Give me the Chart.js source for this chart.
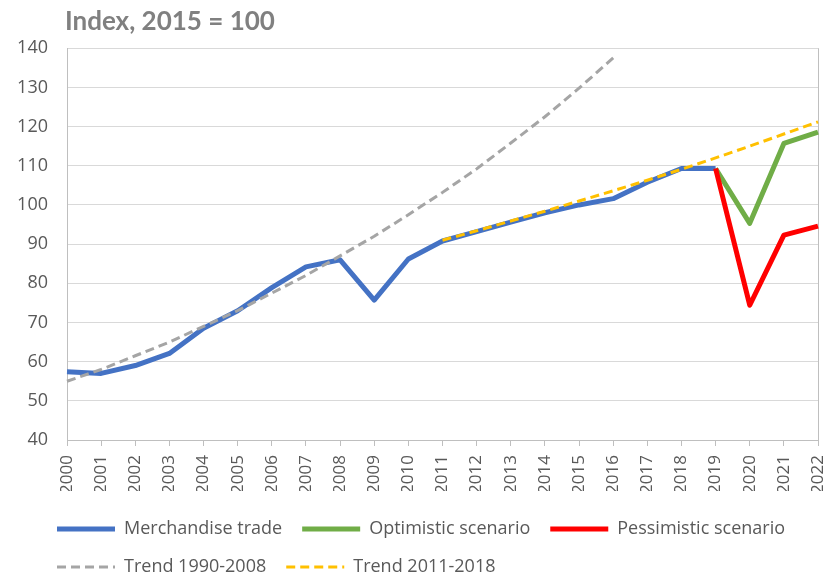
<!DOCTYPE html>
<html>
<head>
<meta charset="utf-8">
<script src="https://cdn.jsdelivr.net/npm/chart.js@4"></script>
<style>
  html, body { margin: 0; padding: 0; background: #fff; }
  #wrap { position: relative; width: 823px; height: 577px; }
</style>
</head>
<body>
<div id="wrap"><canvas id="tradeChart"></canvas></div>
<script>
const years = ['2000','2001','2002','2003','2004','2005','2006','2007','2008','2009','2010',
               '2011','2012','2013','2014','2015','2016','2017','2018','2019','2020','2021','2022'];

const merchandise = [57.4, 57.0, 59.0, 62.1, 68.5, 73.0, 78.9, 84.2, 86.0, 75.7, 86.2,
                     90.8, 93.2, 95.6, 98.0, 100.0, 101.6, 105.8, 109.3, 109.3, null, null, null];
const optimistic = [null, null, null, null, null, null, null, null, null, null, null,
                    null, null, null, null, null, null, null, null, 109.3, 95.3, 115.7, 118.6];
const pessimistic = [null, null, null, null, null, null, null, null, null, null, null,
                     null, null, null, null, null, null, null, null, 109.3, 74.4, 92.3, 94.6];
const trend1990 = [55.0, 58.0, 61.5, 65.0, 69.0, 73.0, 77.5, 82.0, 87.0, 92.0, 97.5,
                   103.2, 109.2, 115.8, 122.5, 129.8, 137.5, null, null, null, null, null, null];
const trend2011 = [null, null, null, null, null, null, null, null, null, null, null,
                   91.0, 93.4, 95.9, 98.4, 101.0, 103.6, 106.3, 109.1, 112.0, 115.0, 118.1, 121.2];

const gridGray = '#d9d9d9';
const axisGray = '#bfbfbf';
const textGray = '#595959';

// move title and legend to where the original puts them
const nudge = {
    id: 'nudge',
    afterLayout(chart) {
        chart.titleBlock.left = chart.chartArea.left - 2;
        chart.legend.left += 37;
        chart.legend.top += 9;
    }
};

const ctx = document.getElementById('tradeChart').getContext('2d');
const chart = new Chart(ctx, {
    type: 'line',
    data: {
        labels: years,
        datasets: [{
            label: 'Merchandise trade',
            data: merchandise,
            borderColor: '#4472c4',
            backgroundColor: '#4472c4',
            borderWidth: 5,
            order: 4
        }, {
            label: 'Optimistic scenario',
            data: optimistic,
            borderColor: '#70ad47',
            backgroundColor: '#70ad47',
            borderWidth: 5,
            order: 3
        }, {
            label: 'Pessimistic scenario',
            data: pessimistic,
            borderColor: '#ff0000',
            backgroundColor: '#ff0000',
            borderWidth: 5,
            order: 2
        }, {
            label: 'Trend 1990-2008',
            data: trend1990,
            borderColor: '#a5a5a5',
            backgroundColor: '#a5a5a5',
            borderWidth: 3,
            borderDash: [9, 5],
            order: 1
        }, {
            label: 'Trend 2011-2018',
            data: trend2011,
            borderColor: '#ffc000',
            backgroundColor: '#ffc000',
            borderWidth: 3,
            borderDash: [9, 5],
            order: 0
        }]
    },
    options: {
        responsive: true,
        maintainAspectRatio: false,
        animation: false,
        layout: { padding: 0 },
        elements: {
            point: { radius: 0 },
            line: { tension: 0, borderJoinStyle: 'round', fill: false }
        },
        scales: {
            x: {
                type: 'category',
                offset: false,
                grid: {
                    color: (c) => c.index === years.length - 1 ? axisGray : 'transparent',
                    tickColor: axisGray,
                    tickLength: 6,
                    drawOnChartArea: true
                },
                border: { color: axisGray, width: 1 },
                ticks: {
                    autoSkip: false,
                    maxRotation: 90,
                    minRotation: 90,
                    padding: 9,
                    color: textGray,
                    font: { family: 'Open Sans', size: 17 }
                },
                afterFit: (scale) => {
                    scale.height = 51;
                    scale.paddingRight = 5;
                    scale.paddingLeft = 0;
                }
            },
            y: {
                min: 40,
                max: 140,
                grid: { color: gridGray, drawTicks: false },
                border: { color: axisGray, width: 1 },
                ticks: {
                    stepSize: 10,
                    padding: 19,
                    color: textGray,
                    font: { family: 'Open Sans', size: 18 }
                },
                afterFit: (scale) => { scale.width = 67; }
            }
        },
        plugins: {
            title: {
                display: true,
                text: 'Index, 2015 = 100',
                align: 'start',
                color: '#808080',
                font: { family: 'Lato', size: 26, weight: 'bold', lineHeight: 1.2 },
                padding: { top: 6, bottom: 11 }
            },
            legend: {
                position: 'bottom',
                align: 'start',
                labels: {
                    usePointStyle: true,
                    pointStyle: 'line',
                    pointStyleWidth: 58,
                    padding: 20,
                    color: textGray,
                    font: { family: 'Open Sans', size: 18 },
                    sort: (a, b) => a.datasetIndex - b.datasetIndex,
                    generateLabels: (chart) => {
                        const items = Chart.defaults.plugins.legend.labels.generateLabels(chart);
                        items.forEach(item => {
                            const ds = chart.data.datasets[item.datasetIndex];
                            item.lineDash = ds.borderDash || [];
                            item.lineWidth = ds.borderWidth;
                            item.strokeStyle = ds.borderColor;
                            item.pointStyle = 'line';
                        });
                        return items;
                    }
                }
            },
            tooltip: { enabled: false }
        }
    },
    plugins: [nudge]
});
</script>
</body>
</html>
